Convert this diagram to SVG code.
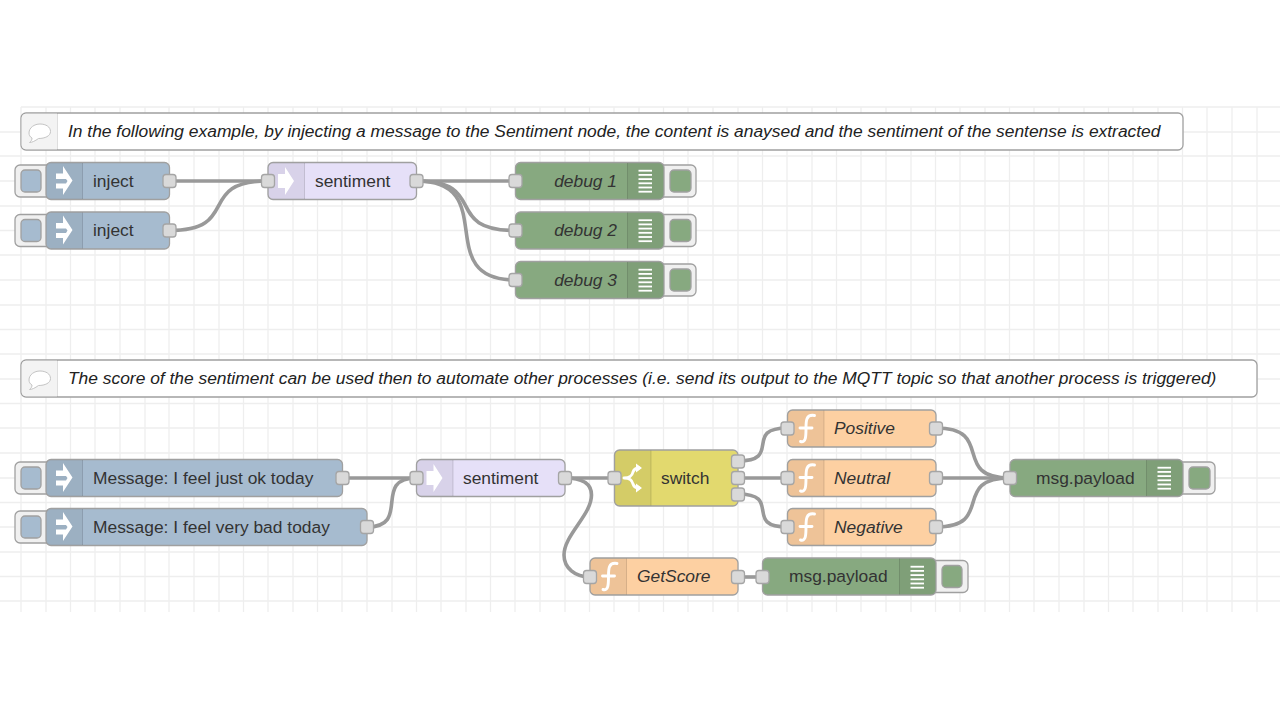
<svg xmlns="http://www.w3.org/2000/svg" width="1280" height="720" viewBox="0 0 1280 720">
<style>
.grid{stroke:#eeeeee;stroke-width:1.3;fill:none}
.w{stroke:#999;stroke-width:3.6;fill:none}
.n{stroke:#a0a0a0;stroke-width:1.3}
.sep{stroke:#000;stroke-opacity:.13;stroke-width:1}
.shade{fill:#000;fill-opacity:.06}
.btn{fill:#f0f0f0;stroke:#a0a0a0;stroke-width:1.3}
.p{fill:#d9d9d9;stroke:#a5a5a5;stroke-width:1.3}
.inj{fill:#a6bbcf}
.sen{fill:#e6e0f8}
.dbg{fill:#87a980}
.fn{fill:#fdd0a2}
.sw{fill:#e2d96e}
text{font-family:"Liberation Sans",Arial,sans-serif;font-size:17.4px;fill:#333}
.i{font-style:italic}
.c{font-style:italic;fill:#222}
.ic{fill:#fff}
.ics{fill:none;stroke:#fff;stroke-width:2.9;stroke-linecap:round}
</style>
<defs>
<path id="injIcon" class="ic" d="M56 173.500H63V166L72.500 180.500L63 195V188.500H56V183.500H66L67.500 181L66 179H56Z"/>
<path id="arrowIcon" class="ic" d="M278 174h7v-7l9 14-9 14v-7h-7z"/>
<g id="dbgIcon" class="ic"><rect x="638.500" y="169.800" width="13.500" height="1.800"/><rect x="638.500" y="174" width="13.500" height="1.800"/><rect x="638.500" y="178.200" width="13.500" height="1.800"/><rect x="638.500" y="182.400" width="13.500" height="1.800"/><rect x="638.500" y="186.600" width="13.500" height="1.800"/><rect x="638.500" y="190.800" width="13.500" height="1.800"/></g>
<path id="fnIcon" class="ics" d="M814.500 415.500C806 414 806 421 806 428C806 436 806 443 800.500 441.500M800 428H812"/>
<path id="bubble" d="M29 133C29 127.500 34.500 124 40 124C46 124 50.500 127 50.500 131.500C50.500 136 45 138.500 38.500 138.500C35 141 32 142.500 29.500 142.500C31.500 141 32 139.500 32 138C30 137 29 135 29 133Z" fill="#fff" stroke="#c4c4c4" stroke-width="1"/>
</defs>
<rect width="1280" height="720" fill="#fff"/>
<path class="grid" d="M21 107V612M46 107V612M70.500 107V612M95 107V612M120 107V612M145 107V612M169 107V612M194 107V612M219 107V612M243.500 107V612M268 107V612M293 107V612M317.500 107V612M342 107V612M367 107V612M392 107V612M416.500 107V612M441 107V612M466 107V612M490.500 107V612M515 107V612M540 107V612M565 107V612M589.500 107V612M614 107V612M639 107V612M663.500 107V612M688 107V612M713 107V612M738 107V612M762.500 107V612M787 107V612M812 107V612M836.500 107V612M861 107V612M886 107V612M911 107V612M935.500 107V612M960 107V612M985 107V612M1009.500 107V612M1034 107V612M1059 107V612M1084 107V612M1108.500 107V612M1133 107V612M1158 107V612M1182.500 107V612M1207 107V612M1232 107V612M1257 107V612"/>
<path class="grid" d="M21 107H1280M0 132H1280M0 156H1280M0 181H1280M0 206H1280M0 230.500H1280M0 255H1280M0 280H1280M0 305H1280M0 329.500H1280M0 354H1280M0 379H1280M0 403.500H1280M0 428H1280M0 453H1280M0 478H1280M0 502.500H1280M0 527H1280M0 552H1280M0 576.500H1280M0 601H1280"/>
<g id="connectors">
<path class="w" d="M169.500 181H268"/>
<path class="w" d="M169.500 230.500C242 230.500 195 181 268 181"/>
<path class="w" d="M416.500 181H515.500"/>
<path class="w" d="M416.500 181C490 181 441 230.500 515.500 230.500"/>
<path class="w" d="M416.500 181C502 181 430 280 515.500 280"/>
<path class="w" d="M342.500 478H416.500"/>
<path class="w" d="M367 527C412 527 371.500 478 416.500 478"/>
<path class="w" d="M565 478H614.500"/>
<path class="w" d="M565 478C583 478 591.500 484 591.500 495C591.500 515 564 535 564 555C564 568 575 577 590 577"/>
<path class="w" d="M738 461C783 461 742.500 428 787.500 428"/>
<path class="w" d="M738 478H787.500"/>
<path class="w" d="M738 494C783 494 742.500 527 787.500 527"/>
<path class="w" d="M936 428C996 428 950 478 1010 478"/>
<path class="w" d="M936 478H1010"/>
<path class="w" d="M936 527C996 527 950 478 1010 478"/>
<path class="w" d="M738 577H762.500"/>
</g>
<g id="comment1"><rect x="21" y="113" width="1162" height="37" rx="5" fill="#fff" class="n"/><path d="M57 113.700H26a4.300 4.300 0 0 0-4.300 4.300V145a4.300 4.300 0 0 0 4.300 4.300H57Z" fill="#f3f3f3"/><path class="sep" d="M57.500 113.500V149.500"/><use href="#bubble"/><text class="c" x="68" y="137">In the following example, by injecting a message to the Sentiment node, the content is anaysed and the sentiment of the sentense is extracted</text></g>
<g id="inject1"><rect class="btn" x="15" y="165" width="40" height="32" rx="5"/><rect class="inj n" x="21" y="170" width="20" height="22" rx="4"/><rect class="inj n" x="46" y="162.500" width="123.500" height="37" rx="5"/><path class="shade" d="M82.500 163H51a4.500 4.500 0 0 0-4.500 4.500v27a4.500 4.500 0 0 0 4.500 4.500H82.500Z"/><path class="sep" d="M82.500 163V199"/><use href="#injIcon"/><text x="93" y="186.500">inject</text><rect class="p" x="163" y="174.500" width="13" height="13" rx="3"/></g>
<g id="inject2"><rect class="btn" x="15" y="214.500" width="40" height="32" rx="5"/><rect class="inj n" x="21" y="219.500" width="20" height="22" rx="4"/><rect class="inj n" x="46" y="212" width="123.500" height="37" rx="5"/><path class="shade" d="M82.500 212.500H51a4.500 4.500 0 0 0-4.500 4.500v27a4.500 4.500 0 0 0 4.500 4.500H82.500Z"/><path class="sep" d="M82.500 212.500V248.500"/><use href="#injIcon" y="49.500"/><text x="93" y="236">inject</text><rect class="p" x="163" y="224" width="13" height="13" rx="3"/></g>
<g id="sentiment1"><rect class="sen n" x="268" y="162.500" width="148.500" height="37" rx="5"/><path class="shade" d="M304.500 163H273a4.500 4.500 0 0 0-4.500 4.500v27a4.500 4.500 0 0 0 4.500 4.500H304.500Z"/><path class="sep" d="M304.500 163V199"/><use href="#arrowIcon"/><text x="315" y="186.500">sentiment</text><rect class="p" x="261.500" y="174.500" width="13" height="13" rx="3"/><rect class="p" x="410" y="174.500" width="13" height="13" rx="3"/></g>
<g id="debug1"><rect class="btn" x="655" y="165" width="41" height="32" rx="5"/><rect class="dbg n" x="670" y="170" width="21" height="22" rx="4"/><rect class="dbg n" x="515.500" y="162.500" width="148.500" height="37" rx="5"/><path class="shade" d="M627.500 163H659a4.500 4.500 0 0 1 4.500 4.500v27a4.500 4.500 0 0 1-4.500 4.500H627.500Z"/><path class="sep" d="M627.500 163V199"/><use href="#dbgIcon"/><text class="i" x="617" y="186.500" text-anchor="end">debug 1</text><rect class="p" x="509" y="174.500" width="13" height="13" rx="3"/></g>
<g id="debug2"><rect class="btn" x="655" y="214.500" width="41" height="32" rx="5"/><rect class="dbg n" x="670" y="219.500" width="21" height="22" rx="4"/><rect class="dbg n" x="515.500" y="212" width="148.500" height="37" rx="5"/><path class="shade" d="M627.500 212.500H659a4.500 4.500 0 0 1 4.500 4.500v27a4.500 4.500 0 0 1-4.500 4.500H627.500Z"/><path class="sep" d="M627.500 212.500V248.500"/><use href="#dbgIcon" y="49.500"/><text class="i" x="617" y="236" text-anchor="end">debug 2</text><rect class="p" x="509" y="224" width="13" height="13" rx="3"/></g>
<g id="debug3"><rect class="btn" x="655" y="264" width="41" height="32" rx="5"/><rect class="dbg n" x="670" y="269" width="21" height="22" rx="4"/><rect class="dbg n" x="515.500" y="261.500" width="148.500" height="37" rx="5"/><path class="shade" d="M627.500 262H659a4.500 4.500 0 0 1 4.500 4.500v27a4.500 4.500 0 0 1-4.500 4.500H627.500Z"/><path class="sep" d="M627.500 262V298"/><use href="#dbgIcon" y="99"/><text class="i" x="617" y="285.500" text-anchor="end">debug 3</text><rect class="p" x="509" y="273.500" width="13" height="13" rx="3"/></g>
<g id="comment2"><rect x="21" y="360" width="1236" height="37" rx="5" fill="#fff" class="n"/><path d="M57 360.700H26a4.300 4.300 0 0 0-4.300 4.300V392a4.300 4.300 0 0 0 4.300 4.300H57Z" fill="#f3f3f3"/><path class="sep" d="M57.500 360.500V396.500"/><use href="#bubble" y="247"/><text class="c" x="68" y="384">The score of the sentiment can be used then to automate other processes (i.e. send its output to the MQTT topic so that another process is triggered)</text></g>
<g id="inject3"><rect class="btn" x="15" y="462" width="40" height="32" rx="5"/><rect class="inj n" x="21" y="467" width="20" height="22" rx="4"/><rect class="inj n" x="46" y="459.500" width="296.500" height="37" rx="5"/><path class="shade" d="M82.500 460H51a4.500 4.500 0 0 0-4.500 4.500v27a4.500 4.500 0 0 0 4.500 4.500H82.500Z"/><path class="sep" d="M82.500 460V496"/><use href="#injIcon" y="297"/><text x="93" y="483.500">Message: I feel just ok today</text><rect class="p" x="336" y="471.500" width="13" height="13" rx="3"/></g>
<g id="inject4"><rect class="btn" x="15" y="511" width="40" height="32" rx="5"/><rect class="inj n" x="21" y="516" width="20" height="22" rx="4"/><rect class="inj n" x="46" y="508.500" width="321" height="37" rx="5"/><path class="shade" d="M82.500 509H51a4.500 4.500 0 0 0-4.500 4.500v27a4.500 4.500 0 0 0 4.500 4.500H82.500Z"/><path class="sep" d="M82.500 509V545"/><use href="#injIcon" y="346"/><text x="93" y="532.500">Message: I feel very bad today</text><rect class="p" x="360.500" y="520.500" width="13" height="13" rx="3"/></g>
<g id="sentiment2"><rect class="sen n" x="416.500" y="459.500" width="148.500" height="37" rx="5"/><path class="shade" d="M453 460H421.500a4.500 4.500 0 0 0-4.500 4.500v27a4.500 4.500 0 0 0 4.500 4.500H453Z"/><path class="sep" d="M453 460V496"/><use href="#arrowIcon" x="148.500" y="297"/><text x="463" y="483.500">sentiment</text><rect class="p" x="410" y="471.500" width="13" height="13" rx="3"/><rect class="p" x="558.500" y="471.500" width="13" height="13" rx="3"/></g>
<g id="switch"><rect class="sw n" x="614.500" y="450" width="123.500" height="56" rx="5"/><path class="shade" d="M651 450.500H619.500a4.500 4.500 0 0 0-4.500 4.500v46a4.500 4.500 0 0 0 4.500 4.500H651Z"/><path class="sep" d="M651 450.500V505.500"/><path class="ics" d="M624 478C630 478 632 476 633 472C634 469 636 468 639 468M624 478C630 478 632 480 633 484C634 487 636 488 639 488"/><path class="ic" d="M636 463.500L642 468L636 472.500ZM636 483.500L642 488L636 492.500Z"/><text x="661" y="483.500">switch</text><rect class="p" x="608" y="471.500" width="13" height="13" rx="3"/><rect class="p" x="731.500" y="455" width="13" height="13" rx="3"/><rect class="p" x="731.500" y="471.500" width="13" height="13" rx="3"/><rect class="p" x="731.500" y="488" width="13" height="13" rx="3"/></g>
<g id="positive"><rect class="fn n" x="787.500" y="410" width="148.500" height="37" rx="5"/><path class="shade" d="M824 410.500H792.500a4.500 4.500 0 0 0-4.500 4.500v27a4.500 4.500 0 0 0 4.500 4.500H824Z"/><path class="sep" d="M824 410.500V446.500"/><use href="#fnIcon"/><text class="i" x="834" y="434">Positive</text><rect class="p" x="781" y="422" width="13" height="13" rx="3"/><rect class="p" x="929.500" y="422" width="13" height="13" rx="3"/></g>
<g id="neutral"><rect class="fn n" x="787.500" y="459.500" width="148.500" height="37" rx="5"/><path class="shade" d="M824 460H792.500a4.500 4.500 0 0 0-4.500 4.500v27a4.500 4.500 0 0 0 4.500 4.500H824Z"/><path class="sep" d="M824 460V496"/><use href="#fnIcon" y="49.500"/><text class="i" x="834" y="483.500">Neutral</text><rect class="p" x="781" y="471.500" width="13" height="13" rx="3"/><rect class="p" x="929.500" y="471.500" width="13" height="13" rx="3"/></g>
<g id="negative"><rect class="fn n" x="787.500" y="508.500" width="148.500" height="37" rx="5"/><path class="shade" d="M824 509H792.500a4.500 4.500 0 0 0-4.500 4.500v27a4.500 4.500 0 0 0 4.500 4.500H824Z"/><path class="sep" d="M824 509V545"/><use href="#fnIcon" y="98.500"/><text class="i" x="834" y="532.500">Negative</text><rect class="p" x="781" y="520.500" width="13" height="13" rx="3"/><rect class="p" x="929.500" y="520.500" width="13" height="13" rx="3"/></g>
<g id="payload1"><rect class="btn" x="1174" y="462" width="41" height="32" rx="5"/><rect class="dbg n" x="1189" y="467" width="21" height="22" rx="4"/><rect class="dbg n" x="1010" y="459.500" width="173" height="37" rx="5"/><path class="shade" d="M1146.500 460H1178a4.500 4.500 0 0 1 4.500 4.500v27a4.500 4.500 0 0 1-4.500 4.500H1146.500Z"/><path class="sep" d="M1146.500 460V496"/><use href="#dbgIcon" x="519" y="297"/><text x="1036" y="483.500">msg.payload</text><rect class="p" x="1003.500" y="471.500" width="13" height="13" rx="3"/></g>
<g id="getscore"><rect class="fn n" x="590" y="558" width="148" height="37" rx="5"/><path class="shade" d="M626.500 558.500H595a4.500 4.500 0 0 0-4.500 4.500v27a4.500 4.500 0 0 0 4.500 4.500H626.500Z"/><path class="sep" d="M626.500 558.500V594.500"/><use href="#fnIcon" x="-197.500" y="148"/><text class="i" x="637" y="582">GetScore</text><rect class="p" x="583.500" y="570.500" width="13" height="13" rx="3"/><rect class="p" x="731.500" y="570.500" width="13" height="13" rx="3"/></g>
<g id="payload2"><rect class="btn" x="927" y="560.500" width="41" height="32" rx="5"/><rect class="dbg n" x="942" y="565.500" width="20" height="22" rx="4"/><rect class="dbg n" x="762.500" y="558" width="173.500" height="37" rx="5"/><path class="shade" d="M899.500 558.500H931a4.500 4.500 0 0 1 4.500 4.500v27a4.500 4.500 0 0 1-4.500 4.500H899.500Z"/><path class="sep" d="M899.500 558.500V594.500"/><use href="#dbgIcon" x="272" y="396"/><text x="789" y="582">msg.payload</text><rect class="p" x="756" y="570.500" width="13" height="13" rx="3"/></g>
</svg>
